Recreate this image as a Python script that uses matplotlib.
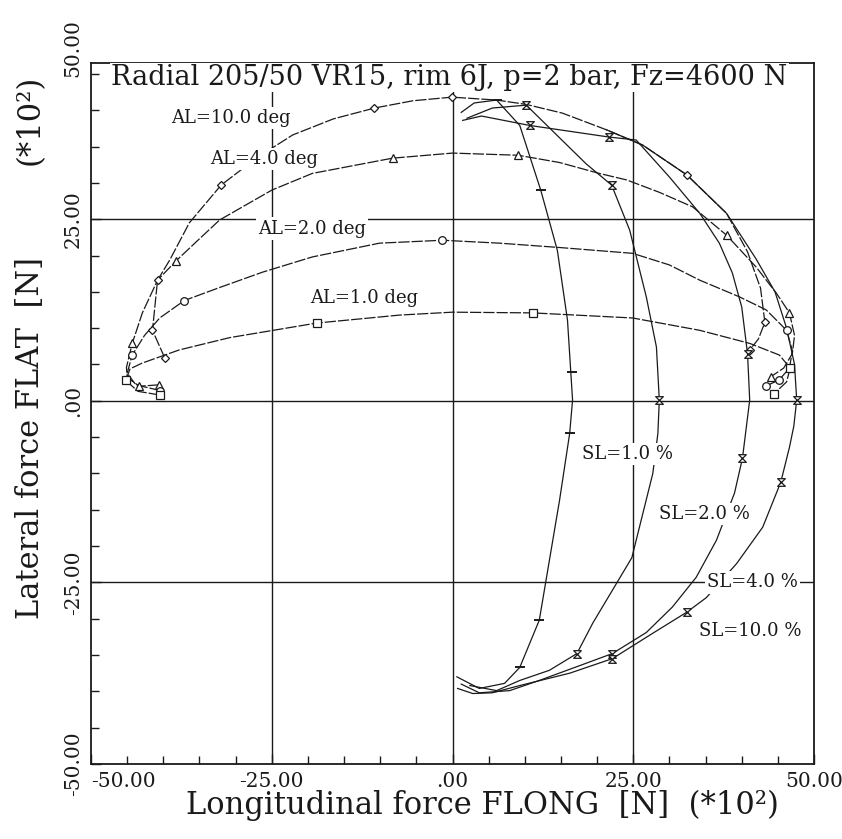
import matplotlib
matplotlib.use('Agg')
import matplotlib.pyplot as plt
from matplotlib.path import Path

plt.rcParams['font.family'] = ['DejaVu Serif']

# ---------------- data (x = FLONG, y = FLAT, units *10^2 N) ----------------
# constant slip angle curves (lines)
AL10_X = [-39.8, -41.5, -40.8, -39.1, -36.4, -32.0, -27.0, -22.1, -16.5, -10.8, -5.5, -0.1, 6.1, 10.2, 15.2, 21.3, 26.3, 32.4, 37.9, 40.8, 42.6, 43.2, 42.3, 41.1]
AL10_Y = [5.9, 9.7, 16.6, 19.4, 24.5, 29.7, 33.5, 36.6, 38.8, 40.3, 41.3, 41.8, 41.4, 40.8, 39.6, 37.3, 35.2, 31.1, 25.8, 20.5, 15.5, 10.8, 8.5, 7.0]
AL4_X = [-40.6, -43.3, -45.0, -45.1, -44.3, -42.9, -40.8, -38.2, -35.0, -32.2, -25.0, -19.4, -8.3, 0.0, 9.1, 14.8, 20.3, 24.1, 28.6, 33.2, 37.9, 42.0, 44.8, 46.6, 47.3, 47.0, 45.8, 44.0]
AL4_Y = [2.2, 2.0, 3.2, 4.6, 7.9, 12.1, 16.6, 19.3, 22.3, 24.9, 29.0, 31.3, 33.4, 34.1, 33.8, 32.8, 31.3, 30.4, 28.7, 26.7, 22.8, 18.4, 14.8, 12.1, 9.0, 6.5, 4.5, 3.3]
AL2_X = [-40.4, -43.8, -45.0, -44.3, -42.6, -40.5, -37.1, -32.2, -26.3, -19.4, -10.1, -1.4, 6.5, 14.8, 24.9, 30.0, 34.2, 39.7, 43.4, 46.2, 47.0, 46.6, 45.2, 43.3]
AL2_Y = [1.4, 2.2, 3.8, 6.3, 9.0, 11.4, 13.8, 15.6, 17.7, 19.8, 21.7, 22.1, 21.7, 21.1, 20.3, 18.7, 16.6, 14.3, 12.5, 9.7, 6.9, 4.5, 2.9, 2.0]
AL1_X = [-40.5, -43.5, -45.2, -44.6, -42.9, -37.8, -30.8, -18.8, -7.3, 0.0, 11.1, 24.9, 34.2, 41.1, 45.2, 46.7, 46.2, 44.5]
AL1_Y = [0.8, 1.3, 2.8, 4.4, 5.2, 7.0, 8.7, 10.7, 11.8, 12.2, 12.1, 11.4, 9.7, 7.9, 6.3, 4.5, 2.6, 1.0]

# constant slip angle curves (symbols)
AL10_MX = [-39.8, -41.5, -40.8, -32.0, -10.8, -0.1, 32.4, 43.2, 41.1]
AL10_MY = [5.9, 9.7, 16.6, 29.7, 40.3, 41.8, 31.1, 10.8, 7.0]
AL4_MX = [-40.6, -43.3, -44.3, -38.2, -8.3, 9.1, 37.9, 46.6, 44.0]
AL4_MY = [2.2, 2.0, 7.9, 19.3, 33.4, 33.8, 22.8, 12.1, 3.3]
AL2_MX = [-40.4, -44.3, -37.1, -1.4, 46.2, 45.2, 43.3]
AL2_MY = [1.4, 6.3, 13.8, 22.1, 9.7, 2.9, 2.0]
AL1_MX = [-40.5, -45.2, -18.8, 11.1, 46.7, 44.5]
AL1_MY = [0.8, 2.8, 10.7, 12.1, 4.5, 1.0]

# constant slip ratio curves (lines)
SL1_X = [1.2, 3.0, 6.1, 9.3, 12.2, 14.5, 15.9, 16.6, 16.2, 14.8, 12.0, 9.3, 7.2, 3.7, 0.6]
SL1_Y = [39.7, 41.0, 41.4, 37.9, 29.0, 20.7, 11.1, 0.1, -4.5, -13.7, -30.2, -36.7, -38.9, -39.6, -38.0]
SL2_X = [2.0, 5.5, 10.2, 14.5, 18.5, 22.0, 24.5, 26.8, 28.2, 28.6, 28.4, 27.7, 24.8, 19.4, 17.2, 13.4, 9.3, 6.1, 2.4]
SL2_Y = [38.9, 40.3, 40.7, 36.5, 32.6, 29.7, 23.5, 14.3, 7.4, 0.1, -4.5, -10.0, -21.6, -30.6, -34.8, -37.1, -38.5, -39.9, -39.2]
SL4_X = [1.4, 4.0, 10.7, 21.7, 25.4, 30.0, 34.2, 36.9, 38.7, 40.0, 40.8, 41.1, 40.1, 39.0, 36.5, 33.7, 30.4, 26.8, 22.1, 17.2, 12.0, 7.9, 3.7, 1.2]
SL4_Y = [38.6, 39.2, 37.9, 36.3, 35.9, 30.8, 25.8, 21.7, 17.6, 12.9, 6.5, 0.1, -7.9, -12.7, -19.2, -24.3, -28.4, -31.9, -34.8, -36.6, -38.5, -39.9, -40.2, -39.0]
SL10_X = [21.3, 26.3, 32.4, 37.9, 42.0, 44.6, 46.2, 47.3, 47.6, 47.2, 46.6, 45.4, 42.9, 39.3, 35.1, 32.4, 27.7, 22.1, 16.2, 9.3, 5.5, 2.8, 0.7]
SL10_Y = [37.3, 35.2, 31.1, 25.8, 19.5, 15.0, 10.0, 5.0, 0.1, -3.5, -6.4, -11.2, -17.4, -22.4, -27.1, -29.1, -32.0, -35.5, -37.5, -39.2, -40.2, -40.3, -39.6]

# constant slip ratio curves (symbols)
SL1_MX = [6.1, 12.2, 16.5, 16.2, 12.0, 9.3]
SL1_MY = [41.4, 29.0, 3.9, -4.5, -30.2, -36.7]
SL2_MX = [10.2, 22.0, 28.6, 17.2]
SL2_MY = [40.7, 29.7, 0.1, -34.8]
SL4_MX = [10.7, 21.7, 40.8, 40.1, 22.1]
SL4_MY = [37.9, 36.3, 6.5, -7.9, -34.8]
SL10_MX = [47.6, 45.4, 32.4, 22.1]
SL10_MY = [0.1, -11.2, -29.1, -35.5]

AL_LABELS = ["AL=10.0 deg", "AL=4.0 deg", "AL=2.0 deg", "AL=1.0 deg"]
AL_LABEL_POS = [(-30.6, 38.9), (-26.0, 33.3), (-19.4, 23.7), (-12.2, 14.2)]
SL_LABELS = ["SL=1.0 %", "SL=2.0 %", "SL=4.0 %", "SL=10.0 %"]
SL_LABEL_POS = [(24.2, -7.3), (34.9, -15.6), (41.5, -25.0), (41.2, -31.7)]

X_TICKS = [-50, -25, 0, 25, 50]
X_TICKLABELS = ["-50.00", "-25.00", ".00", "25.00", "50.00"]
Y_TICKS = [-50, -25, 0, 25]
Y_TICKLABELS = ["-50.00", "-25.00", ".00", "25.00"]
Y_TOP_LABEL = "50.00"
TITLE = "Radial 205/50 VR15, rim 6J, p=2 bar, Fz=4600 N"

# ---------------- figure ----------------
fig = plt.figure(figsize=(8.42, 8.39), dpi=100)
ax = fig.add_axes([0.1081, 0.0894, 0.8587, 0.8355])
ax.set_xlim(-50, 50)
ax.set_ylim(-50, 46.5)

ink = '#1a1a1a'
for s in ax.spines.values():
    s.set_color(ink)
    s.set_linewidth(1.3)

for v in (-25, 0, 25):
    ax.axvline(v, color=ink, lw=1.0, zorder=1)
    ax.axhline(v, color=ink, lw=1.0, zorder=1)

tick_fs = 14.5
ax.set_xticks(X_TICKS)
ax.set_xticklabels(X_TICKLABELS)
ax.set_yticks(Y_TICKS)
ax.set_yticklabels(Y_TICKLABELS)
ax.set_xticks(range(-50, 51, 5), minor=True)
ax.set_yticks(range(-50, 46, 5), minor=True)
ax.tick_params(which='both', direction='in', top=False, right=False,
               color=ink, width=1.0, labelsize=tick_fs, labelcolor=ink)
ax.tick_params(which='major', length=7, pad=6)
ax.tick_params(which='minor', length=6)
for lab in ax.get_yticklabels():
    lab.set_rotation(90)
    lab.set_va('center')
# leftmost x label sits a little to the right, as in the reference
xl = ax.get_xticklabels()
xl[0].set_ha('left')
ax.text(-50, 48.5, Y_TOP_LABEL, rotation=90, ha='right', va='center',
        fontsize=tick_fs, color=ink, clip_on=False)
# move the top label into the tick-label column
ax.texts[-1].set_position((-51.2, 48.5))

hour = Path([(-1, 1), (1, 1), (-1, -1), (1, -1), (-1, 1)],
            [Path.MOVETO, Path.LINETO, Path.LINETO, Path.LINETO, Path.CLOSEPOLY])

line_kw = dict(color=ink, lw=0.9, zorder=3)
al_dash = (0, (9, 1.6))
for X, Y in [(AL10_X, AL10_Y), (AL4_X, AL4_Y), (AL2_X, AL2_Y), (AL1_X, AL1_Y)]:
    ax.plot(X, Y, ls=al_dash, **line_kw)
for X, Y in [(SL1_X, SL1_Y), (SL2_X, SL2_Y), (SL4_X, SL4_Y), (SL10_X, SL10_Y)]:
    ax.plot(X, Y, ls='-', **line_kw)

mk = dict(ls='none', mfc='white', mec=ink, mew=0.9, zorder=4)
ax.plot(AL10_MX, AL10_MY, marker='D', ms=4.2, **mk)
ax.plot(AL4_MX, AL4_MY, marker='^', ms=5.5, **mk)
ax.plot(AL2_MX, AL2_MY, marker='o', ms=5.5, **mk)
ax.plot(AL1_MX, AL1_MY, marker='s', ms=5.5, **mk)
ax.plot(SL1_MX, SL1_MY, marker='_', ms=7, ls='none', mec=ink, mew=1.4, zorder=4)
for MX, MY in [(SL2_MX, SL2_MY), (SL4_MX, SL4_MY), (SL10_MX, SL10_MY)]:
    ax.plot(MX, MY, marker=hour, ms=5.5, **mk)

lab_kw = dict(fontsize=13, color=ink, ha='center', va='center', zorder=6,
              bbox=dict(boxstyle='square,pad=0.12', fc='white', ec='none'))
for t, (x, y) in zip(AL_LABELS, AL_LABEL_POS):
    ax.text(x, y, t, **lab_kw)
for t, (x, y) in zip(SL_LABELS, SL_LABEL_POS):
    ax.text(x, y, t, **lab_kw)

ax.text(-0.4, 44.5, TITLE, fontsize=19.5, color=ink, ha='center', va='center',
        zorder=6, bbox=dict(boxstyle='square,pad=0.05', fc='white', ec='none'))

fig.text(0.573, 0.040, "Longitudinal force FLONG  [N]  (*10²)", fontsize=22,
         color=ink, ha='center', va='center')
fig.text(0.036, 0.478, "Lateral force FLAT  [N]", fontsize=22, rotation=90,
         color=ink, ha='center', va='center')
fig.text(0.036, 0.857, "(*10²)", fontsize=22, rotation=90,
         color=ink, ha='center', va='center')

fig.savefig('out.png', dpi=100)
